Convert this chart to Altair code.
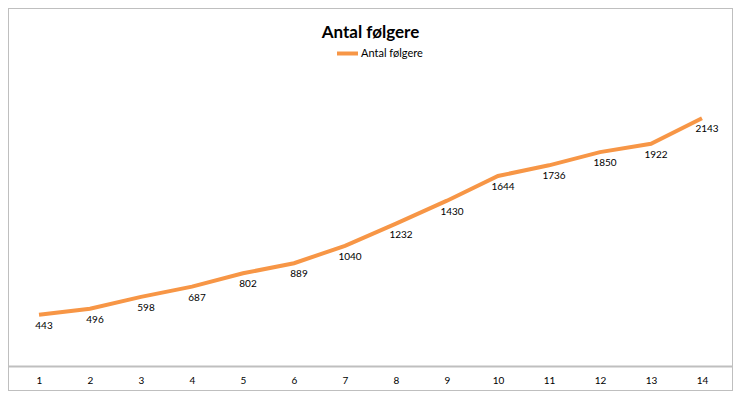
import altair as alt
import pandas as pd

weeks = list(range(1, 15))
followers = [443, 496, 598, 687, 802, 889, 1040, 1232, 1430, 1644, 1736, 1850, 1922, 2143]
series_name = "Antal følgere"
title_text = "Antal følgere"

df = pd.DataFrame({"uge": weeks, "antal": followers, "serie": [series_name] * len(weeks)})

FONT = "Lato"
ORANGE = "#F79646"
GRAY = "#BFBFBF"
W, H, BOTTOM = 725, 358, 25

x_enc = alt.X("uge:O", scale=alt.Scale(type="point", padding=0.608),
              axis=alt.Axis(title=None, labelAngle=0, ticks=False, domainColor=GRAY,
                            domainWidth=2, labelFont=FONT, labelFontSize=10, labelColor="#000000",
                            labelPadding=9, grid=False))
y_enc = alt.Y("antal:Q", scale=alt.Scale(domain=[0, 3097], nice=False), axis=None)

base = alt.Chart(df).encode(x=x_enc, y=y_enc)

# chart frame (decoration only)
frame = alt.Chart(df).mark_rect(fill="transparent", stroke=GRAY, strokeWidth=2, clip=False).encode(
    x=alt.value(0), x2=alt.value(W), y=alt.value(0), y2=alt.value(H + BOTTOM)
).transform_filter(alt.datum.uge == 1)

line = base.mark_line(strokeWidth=4, strokeCap="butt", strokeJoin="miter").encode(
    color=alt.Color("serie:N", scale=alt.Scale(range=[ORANGE]),
                    legend=alt.Legend(title=None, orient="none", legendX=327, legendY=33,
                                      symbolType="stroke", symbolSize=441, symbolStrokeWidth=4,
                                      labelFont=FONT, labelFontSize=11, labelColor="#000000",
                                      labelOffset=1)),
)

labels = base.mark_text(dx=5, dy=11, font=FONT, fontSize=10, color="#000000",
                        baseline="middle").encode(
    text=alt.Text("antal:Q"),
)

chart = alt.layer(frame, line, labels).properties(
    width=W, height=H,
    autosize=alt.AutoSizeParams(type="none"),
    padding={"left": 0, "top": 0, "right": 0, "bottom": BOTTOM},
    title=alt.TitleParams(title_text, font=FONT, fontSize=17, fontWeight="bold", color="#000000",
                          anchor="middle", baseline="middle", offset=-43),
).configure_view(strokeWidth=0).configure_axis(ticks=False)

chart.save("out.html", embed_options={"renderer": "svg", "actions": False})
